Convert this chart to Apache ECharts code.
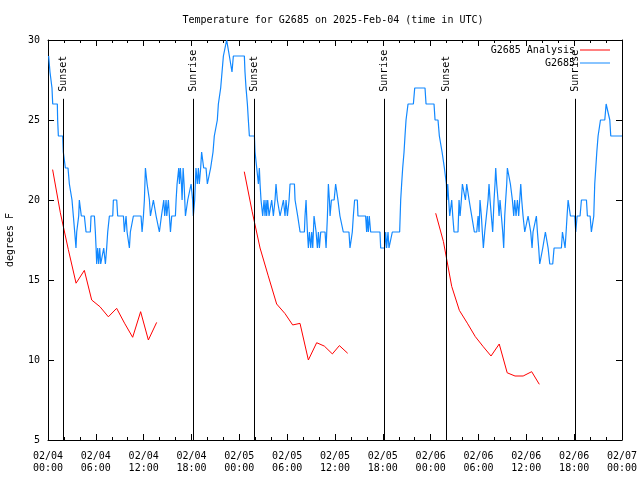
<!DOCTYPE html>
<html>
<head>
<meta charset="utf-8">
<script src="https://cdn.jsdelivr.net/npm/echarts@6/dist/echarts.min.js"></script>
<style>
html,body{margin:0;padding:0;background:#fff;}
#chart{width:640px;height:480px;}
</style>
</head>
<body>
<div id="chart"></div>
<script>
// Hours since 2025-02-04 00:00 UTC
const xTickLabels = ['02/04\n00:00','02/04\n06:00','02/04\n12:00','02/04\n18:00','02/05\n00:00','02/05\n06:00','02/05\n12:00','02/05\n18:00','02/06\n00:00','02/06\n06:00','02/06\n12:00','02/06\n18:00','02/07\n00:00'];
const yTickValues = [5,10,15,20,25,30];

// G2685 observed temperature (deg F): [hour, value]
const observed = [
[0.08,29],[0.25,28],[0.5,27],[0.59,26],[1.17,26],[1.21,25],[1.3,24],[1.84,24],[1.92,23],[2.18,22],[2.51,22],[2.68,21],[2.89,21],[3.01,20],[3.18,19],[3.35,18],[3.51,17],[3.6,18],[3.72,18],[3.85,19],[3.93,20],[4.06,20],[4.18,19],[4.56,19],[4.77,18],[5.31,18],[5.4,19],[5.82,19],[5.94,18],[6.03,17],[6.11,16],[6.23,17],[6.36,16],[6.49,17],[6.61,16],[6.86,16],[6.99,17],[7.07,17],[7.2,16],[7.36,17],[7.49,18],[7.7,19],[8.12,19],[8.2,20],[8.33,20],[8.62,20],[8.74,19],[9.46,19],[9.58,18],[9.79,19],[9.92,18],[10.08,18],[10.21,17],[10.33,18],[10.5,18],[10.71,19],[11.67,19],[11.8,18],[11.97,19],[12.09,20],[12.22,22],[12.3,22],[12.43,21],[12.55,21],[12.72,20],[12.85,19],[13.05,19],[13.22,20],[13.35,20],[13.56,19],[13.81,19],[13.97,18],[14.1,18],[14.23,19],[14.4,19],[14.52,20],[14.64,19],[14.81,20],[14.9,19],[15.1,20],[15.23,19],[15.36,18],[15.52,19],[15.98,19],[16.07,20],[16.19,21],[16.4,22],[16.49,21],[16.61,22],[16.74,21],[16.82,20],[16.95,22],[17.07,21],[17.24,19],[17.36,19],[17.53,20],[17.74,20],[17.95,21],
[18.02,21],[18.14,20],[18.23,19],[18.4,20],[18.56,22],[18.73,21],[18.86,22],[18.98,21],[19.15,22],[19.27,23],[19.4,23],[19.53,22],[19.82,22],[19.99,21],[20.24,21],[20.4,22],[20.57,22],[20.7,23],[20.86,24],[21.07,24],[21.24,25],[21.37,26],[21.66,27],[21.83,28],[22.0,29],[22.25,29],[22.41,30],[22.62,30],[22.75,29],[22.91,29],[23.08,28],[23.25,29],[24.63,29],[24.71,28],[24.84,27],[25.01,26],[25.13,25],[25.26,24],[25.89,24],[25.97,23],[26.18,22],[26.39,21],[26.51,22],[26.6,21],[26.72,20],[26.93,19],[27.1,20],[27.22,19],[27.35,20],[27.43,19],[27.56,20],[27.73,19],[27.89,19],[28.06,20],[28.27,19],[28.48,20],[28.6,21],[28.77,20],[28.94,20],[29.11,19],[29.32,19],[29.53,20],[29.73,19],[29.86,20],[30.03,19],[30.24,20],[30.36,21],[30.91,21],[30.99,20],[31.2,20],[31.32,19],[31.49,19],[31.62,18],[32.16,18],[32.24,19],[32.37,20],[32.45,19],[32.54,18],[32.66,17],[32.79,18],[32.96,17],[33.08,18],[33.21,17],[33.37,19],[33.5,19],[33.63,18],[33.79,17],[33.92,18],[34.04,17],[34.21,18],[34.75,18],[34.88,17],[35.05,19],[35.17,21],[35.3,20],[35.38,19],[35.55,20],[35.89,20],
[36.08,21],[36.2,21],[36.37,20],[36.5,20],[36.62,19],[36.79,19],[37.04,18],[37.75,18],[37.88,17],[38.05,17],[38.17,18],[38.3,19],[38.46,20],[38.59,20],[38.8,20],[38.88,19],[39.01,19],[39.84,19],[39.97,18],[40.05,19],[40.18,18],[40.3,19],[40.47,18],[41.64,18],[41.73,17],[42.23,17],[42.36,18],[42.48,17],[42.65,18],[42.77,17],[42.98,17],[43.19,18],[44.11,18],[44.24,20],[44.36,21],[44.49,22],[44.66,23],[44.78,24],[44.91,25],[45.16,26],[45.83,26],[46.0,27],[47.29,27],[47.42,26],[47.59,26],[48.42,26],[48.55,25],[48.92,25],[49.09,24],[49.26,24],[49.43,23],[49.6,23],[49.72,22],[49.89,22],[49.97,21],[50.05,20],[50.14,21],[50.26,20],[50.39,19],[50.51,19],[50.64,20],[50.77,19],[50.93,18],[51.43,18],[51.56,20],[51.69,19],[51.85,20],[51.98,21],[52.19,21],[52.36,20],[52.52,21],[52.69,21],[52.82,20],[53.03,20],[53.15,19],[53.36,19],[53.48,18],[53.78,18],[53.95,19],
[54.07,18],[54.19,20],[54.36,19],[54.48,18],[54.61,17],[54.78,18],[54.99,19],[55.2,20],[55.32,21],[55.45,20],[55.61,19],[55.78,18],[55.95,20],[56.07,21],[56.16,22],[56.28,21],[56.45,20],[56.58,19],[56.7,20],[56.87,19],[57.04,18],[57.16,17],[57.29,19],[57.41,20],[57.54,21],[57.62,22],[57.83,22],[58.0,21],[58.12,21],[58.25,20],[58.42,19],[58.54,20],[58.71,19],[58.88,20],[59.04,19],[59.17,20],[59.3,21],[59.42,20],[59.59,19],[59.8,18],[60.01,18],[60.22,19],[60.38,19],[60.55,18],[60.72,17],[60.84,18],[61.05,18],[61.26,19],[61.39,18],[61.55,17],[61.68,16],[61.89,16],[62.06,17],[62.22,17],[62.39,18],[62.56,18],[62.73,17],[62.94,16],[63.31,16],[63.48,17],[64.4,17],[64.53,18],[64.73,18],[64.86,17],[64.99,18],[65.11,19],[65.24,20],[65.36,20],[65.53,19],[66.07,19],[66.2,18],[66.37,19],[66.74,19],[66.91,20],[67.54,20],[67.66,19],[68.0,19],[68.16,18],[68.33,18],[68.46,19],[68.58,21],[68.71,22],[68.84,23],[69.0,24],[69.17,24],[69.3,25],[69.84,25],[70.01,26],[70.26,26],[70.47,25],[70.59,24],[72.0,24]
];

// G2685 Analysis (deg F), three nightly segments: [hour, value]
const analysisNight1 = [[0.58,21.9],[1.55,19.2],[2.55,16.9],[3.52,14.8],[4.56,15.6],[5.48,13.75],[6.52,13.33],[7.57,12.7],[8.61,13.23],[9.6,12.3],[10.62,11.42],[11.62,13.02],[12.59,11.25],[13.63,12.35]];
const analysisNight2 = [[24.62,21.77],[25.6,19.3],[26.6,17.0],[27.6,15.3],[28.68,13.5],[29.73,12.9],[30.69,12.19],[31.61,12.29],[32.66,10.0],[33.7,11.08],[34.66,10.87],[35.67,10.38],[36.55,10.9],[37.59,10.42]];
const analysisNight3 = [[48.63,19.17],[49.6,17.4],[50.64,14.6],[51.6,13.1],[52.6,12.3],[53.6,11.46],[54.6,10.83],[55.57,10.25],[56.6,11.0],[57.6,9.2],[58.58,9.0],[59.6,9.0],[60.67,9.27],[61.63,8.48]];

// Sun events (hour since 02/04 00:00)
const sunEventHours = [1.84, 18.15, 25.88, 42.15, 49.97, 66.1];
const sunEventNames = ['Sunset','Sunrise','Sunset','Sunrise','Sunset','Sunrise'];

const analysis = [].concat(analysisNight1, [[18,'-']], analysisNight2, [[42,'-']], analysisNight3);

const FONT = 'DejaVu Sans Mono';
const chart = echarts.init(document.getElementById('chart'), null, {renderer:'canvas'});

const baseX = {
  type:'value', min:0, max:72, interval:6,
  axisLine:{show:true, onZero:false, lineStyle:{color:'#000', width:1}},
  axisTick:{show:true, inside:true, length:6, lineStyle:{color:'#000'}},
  minorTick:{show:true, splitNumber:3, length:3, lineStyle:{color:'#000'}},
  splitLine:{show:false}
};
const baseY = {
  type:'value', min:5, max:30, interval:5,
  axisLine:{show:true, onZero:false, lineStyle:{color:'#000', width:1}},
  axisTick:{show:true, inside:true, length:6, lineStyle:{color:'#000'}},
  splitLine:{show:false}
};

const legendCommon = {right:30, padding:0, align:'right', icon:'rect', itemWidth:30, itemHeight:1,
  textStyle:{fontFamily:FONT, fontSize:10, color:'#000'}};

const option = {
  animation:false,
  backgroundColor:'#fff',
  title:{
    text:'Temperature for G2685 on 2025-Feb-04 (time in UTC)',
    left:328, top:10, textAlign:'center',
    textStyle:{fontFamily:FONT, fontSize:10, fontWeight:'normal', color:'#000'}
  },
  grid:{left:48, right:18, top:40, bottom:40, containLabel:false, outerBoundsMode:'none'},
  legend:[
    Object.assign({data:['G2685 Analysis'], top:45}, legendCommon),
    Object.assign({data:['G2685'], top:58}, legendCommon)
  ],
  xAxis:[
    Object.assign({}, baseX, {position:'bottom',
      axisLabel:{show:true, margin:10, fontFamily:FONT, fontSize:10, color:'#000', lineHeight:12,
        showMinLabel:true, showMaxLabel:true,
        formatter:function(v){ return xTickLabels[Math.round(v/6)] || ''; }}}),
    Object.assign({}, baseX, {position:'top', axisLabel:{show:false}})
  ],
  yAxis:[
    Object.assign({}, baseY, {position:'left', name:'degrees F', nameLocation:'middle', nameGap:33,
      nameTextStyle:{fontFamily:FONT, fontSize:10, color:'#000'},
      axisLabel:{show:true, margin:8, fontFamily:FONT, fontSize:10, color:'#000',
        formatter:function(v){ return yTickValues.indexOf(v) >= 0 ? String(v) : ''; }}}),
    Object.assign({}, baseY, {position:'right', axisLabel:{show:false}})
  ],
  series:[
    {name:'G2685 Analysis', type:'line', xAxisIndex:0, yAxisIndex:0, data:analysis,
     symbol:'none', connectNulls:false, color:'#ff0000', itemStyle:{color:'#ff0000'}, lineStyle:{color:'#ff0000', width:1}, z:3},
    {name:'G2685', type:'line', xAxisIndex:0, yAxisIndex:0, data:observed,
     symbol:'none', color:'#1188ff', itemStyle:{color:'#1188ff'}, lineStyle:{color:'#1188ff', width:1.2}, z:4},
    {name:'sun', type:'custom', xAxisIndex:0, yAxisIndex:0, z:10, silent:true,
     data: sunEventHours.map(function(h){ return [h, 5]; }),
     renderItem:function(params, api){
       const cs = params.coordSys;
       const p = api.coord([api.value(0), 5]);
       const x = Math.round(p[0]) + 0.5;
       const bottom = cs.y + cs.height;
       const top = bottom - 0.853 * cs.height;
       return {type:'group', children:[
         {type:'line', shape:{x1:x, y1:bottom, x2:x, y2:top}, style:{stroke:'#000', lineWidth:1}},
         {type:'text', x:x, y:top - 7, rotation:Math.PI/2,
          style:{text:sunEventNames[params.dataIndex], fontFamily:FONT, fontSize:10, fill:'#000',
                 align:'left', verticalAlign:'middle'}}
       ]};
     }}
  ]
};
chart.setOption(option);
</script>
</body>
</html>
